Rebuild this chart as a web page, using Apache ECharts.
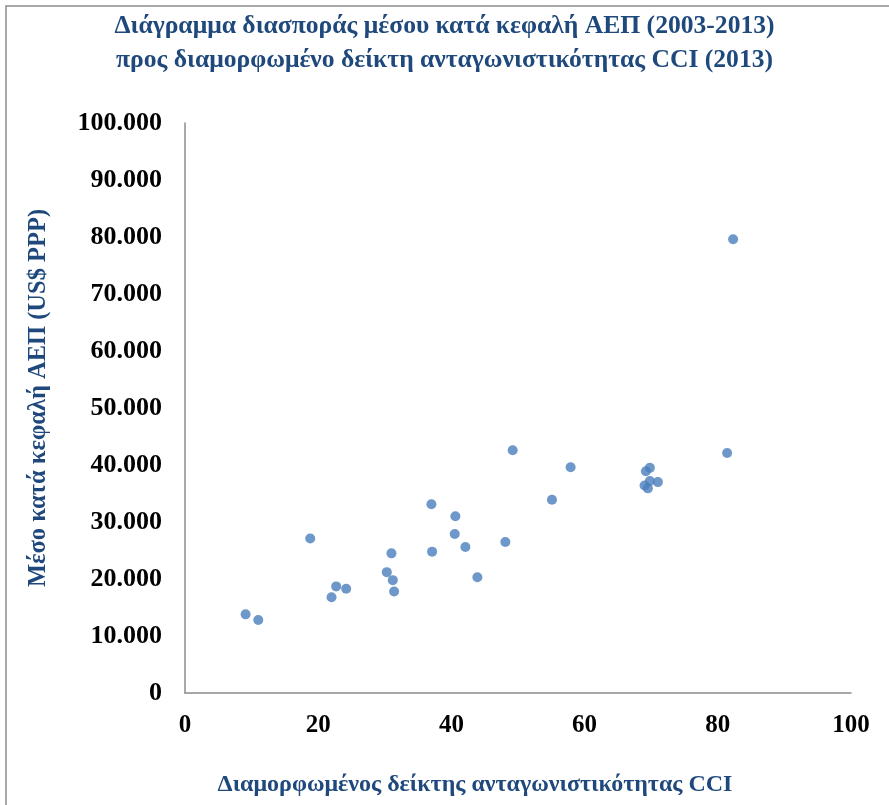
<!DOCTYPE html>
<html>
<head>
<meta charset="utf-8">
<script src="https://cdn.jsdelivr.net/npm/echarts@6/dist/echarts.min.js"></script>
<style>
  html, body { margin: 0; padding: 0; background: #fff; }
  #chart { width: 889px; height: 805px; }
</style>
</head>
<body>
<div id="chart"></div>
<script>
// CCI index (x) and average GDP per capita 2003-2013 in US$ PPP (y)
const cciValues = [
  9.1, 11.0, 18.8, 22.0, 22.7, 24.2, 30.3, 31.0, 31.2, 31.4,
  37.0, 37.1, 40.5, 40.6, 42.1, 43.9, 48.1, 49.2, 55.1, 57.9,
  69.0, 69.2, 69.5, 69.8, 69.8, 71.0, 81.4, 82.3
];
const gdpValues = [
  13800, 12800, 27100, 16800, 18700, 18300, 21200, 24500, 19800, 17800,
  33100, 24800, 27900, 31000, 25600, 20300, 26500, 42600, 33900, 39600,
  36400, 38900, 35900, 37200, 39500, 37000, 42100, 79600
];
const xTicks = [0, 20, 40, 60, 80, 100];
const yTicks = [0, 10000, 20000, 30000, 40000, 50000, 60000, 70000, 80000, 90000, 100000];

const titleText = 'Διάγραμμα διασποράς μέσου κατά κεφαλή ΑΕΠ (2003-2013)\nπρος διαμορφωμένο δείκτη ανταγωνιστικότητας CCI (2013)';
const xName = 'Διαμορφωμένος δείκτης ανταγωνιστικότητας CCI';
const yName = 'Μέσο κατά κεφαλή ΑΕΠ (US$ PPP)';

const points = cciValues.map((x, i) => [x, gdpValues[i]]);

function thousands(v) {
  return String(v).replace(/\B(?=(\d{3})+(?!\d))/g, '.');
}

const serif = '"Liberation Serif", "DejaVu Serif", serif';
const navy = '#1F497D';

const chart = echarts.init(document.getElementById('chart'), null, { renderer: 'canvas' });
chart.setOption({
  backgroundColor: '#ffffff',
  animation: false,
  graphic: [{
    type: 'rect',
    shape: { x: 6, y: 6, width: 1000, height: 1000 },
    style: { fill: 'none', stroke: '#8c8c8c', lineWidth: 1.5 },
    silent: true
  }],
  title: {
    text: titleText,
    left: 'center',
    top: 4,
    textStyle: {
      fontFamily: serif,
      fontWeight: 'bold',
      fontSize: 25.6,
      color: navy,
      lineHeight: 34
    }
  },
  grid: { left: 185, right: 38, top: 123, bottom: 112 },
  xAxis: {
    type: 'value',
    min: xTicks[0],
    max: xTicks[xTicks.length - 1],
    interval: 20,
    name: xName,
    nameLocation: 'middle',
    nameGap: 80,
    nameTextStyle: {
      fontFamily: serif, fontWeight: 'bold', fontSize: 24, color: navy,
      padding: [0, 86, 0, 0]
    },
    axisLine: { show: true, lineStyle: { color: '#8c8c8c', width: 1.5 } },
    axisTick: { show: false },
    splitLine: { show: false },
    axisLabel: {
      margin: 20,
      fontFamily: serif, fontWeight: 'bold', fontSize: 25, color: '#000'
    }
  },
  yAxis: {
    type: 'value',
    min: yTicks[0],
    max: yTicks[yTicks.length - 1],
    interval: 10000,
    name: yName,
    nameLocation: 'middle',
    nameGap: 134,
    nameRotate: 90,
    nameTextStyle: {
      fontFamily: serif, fontWeight: 'bold', fontSize: 24.5, color: navy,
      padding: [0, 0, 0, 20]
    },
    axisLine: { show: true, lineStyle: { color: '#8c8c8c', width: 1.5 } },
    axisTick: { show: false },
    splitLine: { show: false },
    axisLabel: {
      margin: 23,
      fontFamily: serif, fontWeight: 'bold', fontSize: 26, color: '#000',
      formatter: thousands
    }
  },
  series: [{
    type: 'scatter',
    data: points,
    symbol: 'circle',
    symbolSize: 10,
    itemStyle: { color: '#4A7EBB' }
  }]
});
</script>
</body>
</html>
